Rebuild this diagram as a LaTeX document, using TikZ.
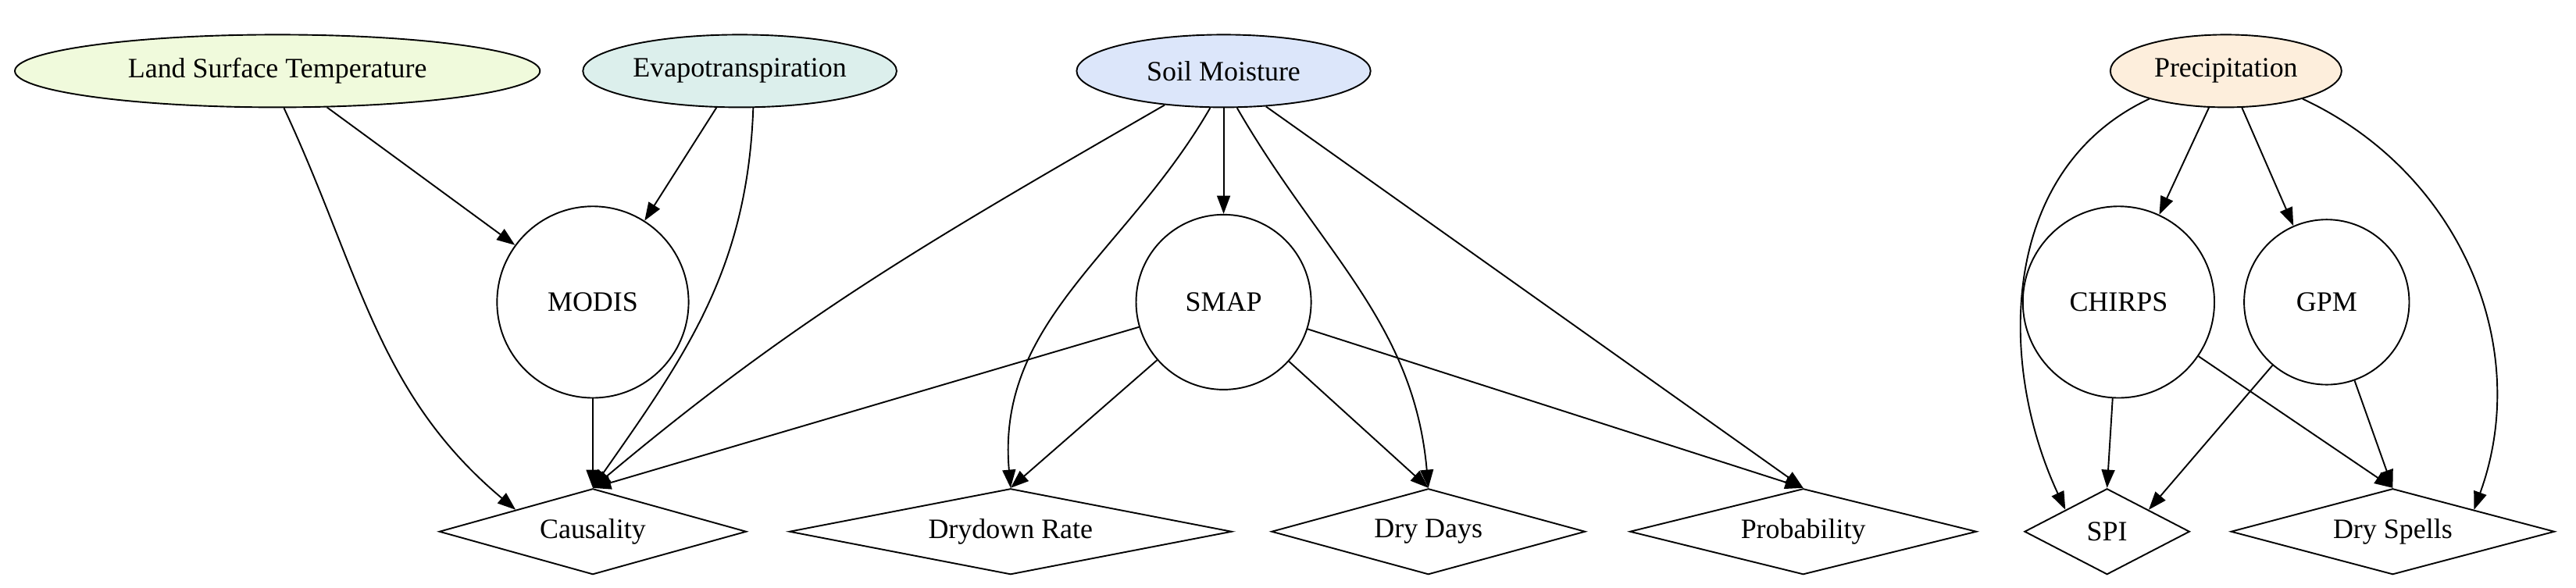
\documentclass[tikz,border=0pt]{standalone}
\usepackage{fontspec}
\setmainfont{Liberation Serif}
\usetikzlibrary{shapes.geometric,arrows.meta}
\definecolor{clst}{HTML}{F0FADC}
\definecolor{cet}{HTML}{DCEFEC}
\definecolor{csm}{HTML}{DCE6FA}
\definecolor{cpr}{HTML}{FDEEDC}
\begin{document}
\begin{tikzpicture}[x=1pt,y=1pt,
  every node/.style={font=\fontsize{17}{20}\selectfont, inner sep=0pt},
  src/.style={ellipse, draw, line width=0.9pt, minimum height=44pt},
  dat/.style={circle, draw, line width=0.9pt},
  res/.style={diamond, draw, line width=0.9pt, aspect=3.6, minimum height=52pt},
  edge/.style={line width=0.9pt, -{Triangle[length=11pt,width=8pt]}}]
\useasboundingbox (0,0) rectangle (1560,-356);
\node[src, fill=clst, minimum width=318pt] (lst) at (168,-43) {Land Surface Temperature};
\node[src, fill=cet, minimum width=190pt] (et) at (448,-43) {Evapotranspiration};
\node[src, fill=csm, minimum width=178pt] (sm) at (741,-43) {Soil Moisture};
\node[src, fill=cpr, minimum width=140pt] (pr) at (1348,-43) {Precipitation};
\node[dat, minimum size=116pt] (modis) at (359,-183) {MODIS};
\node[dat, minimum size=106pt] (smap) at (741,-183) {SMAP};
\node[dat, minimum size=116pt] (chirps) at (1283,-183) {CHIRPS};
\node[dat, minimum size=100pt] (gpm) at (1409,-183) {GPM};
\node[res, minimum width=186pt] (caus) at (359,-322) {Causality};
\node[res, minimum width=268pt] (dr) at (612,-322) {Drydown Rate};
\node[res, minimum width=190pt] (dd) at (865,-322) {Dry Days};
\node[res, minimum width=210pt] (prob) at (1092,-322) {Probability};
\node[res, minimum width=100pt, aspect=2] (spi) at (1276,-322) {SPI};
\node[res, minimum width=196pt] (ds) at (1449,-322) {Dry Spells};
\draw[edge] (lst) -- (modis);
\draw[edge] (lst.-80) to[out=-65,in=140] (caus.north west);
\draw[edge] (et) -- (modis);
\draw[edge] (et.-70) to[out=-92,in=55] (caus.north);
\draw[edge] (sm) to[out=-150,in=40] (caus.north);
\draw[edge] (sm) -- (smap);
\draw[edge] (sm.-110) to[out=-120,in=95] (dr.north);
\draw[edge] (sm.-70) to[out=-60,in=95] (dd.north);
\draw[edge] (sm.-40) -- (prob.north);
\draw[edge] (modis) -- (caus);
\draw[edge] (smap) -- (caus.north);
\draw[edge] (smap) -- (dr.north);
\draw[edge] (smap) -- (dd.north);
\draw[edge] (smap) -- (prob.north);
\draw[edge] (pr.-160) to[out=-155,in=115] (spi.north west);
\draw[edge] (pr) -- (chirps);
\draw[edge] (pr) -- (gpm);
\draw[edge] (pr.-20) to[out=-25,in=70] (ds.north east);
\draw[edge] (chirps) -- (spi.north);
\draw[edge] (chirps) -- (ds.north);
\draw[edge] (gpm) -- (spi.north east);
\draw[edge] (gpm) -- (ds.north);
\end{tikzpicture}
\end{document}
